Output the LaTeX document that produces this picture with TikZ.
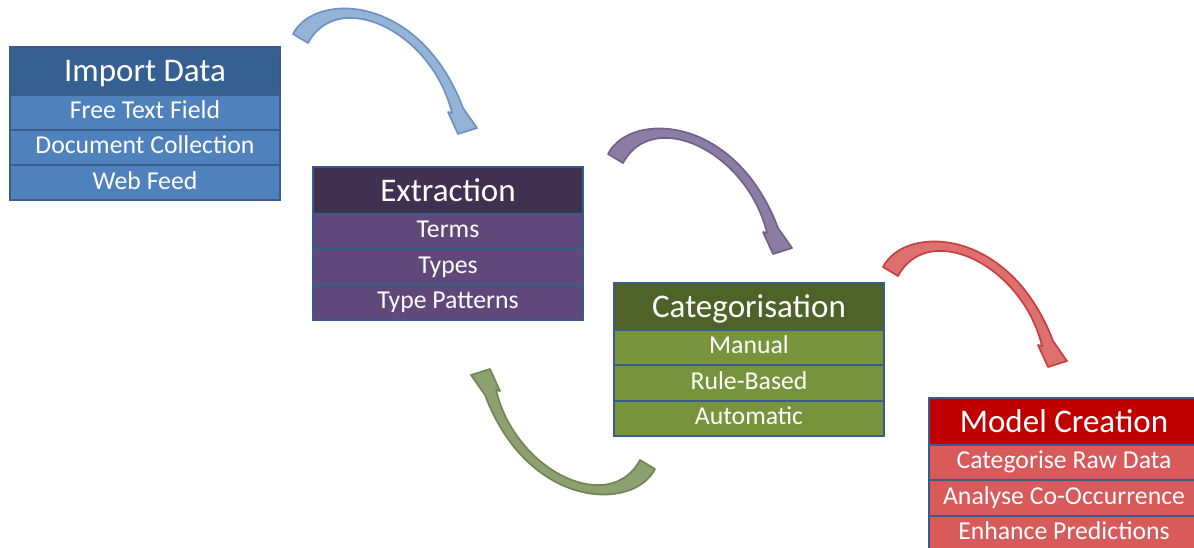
\documentclass[tikz,border=0pt]{standalone}
\usepackage{fontspec}
\setmainfont{Carlito}
\usepackage{tikz}
\usetikzlibrary{positioning}
\definecolor{rowline}{RGB}{56, 93, 138}
\definecolor{importdark}{RGB}{54, 96, 146}
\definecolor{importlight}{RGB}{79, 129, 189}
\definecolor{extractdark}{RGB}{64, 49, 81}
\definecolor{extractlight}{RGB}{96, 73, 122}
\definecolor{catdark}{RGB}{79, 98, 40}
\definecolor{catlight}{RGB}{119, 147, 60}
\definecolor{modeldark}{RGB}{192, 0, 0}
\definecolor{modellight}{RGB}{217, 90, 90}
\definecolor{arrowblue}{RGB}{149, 179, 215}
\definecolor{arrowblueline}{RGB}{108, 145, 193}
\definecolor{arrowpurple}{RGB}{140, 125, 165}
\definecolor{arrowpurpleline}{RGB}{112, 96, 140}
\definecolor{arrowred}{RGB}{222, 112, 112}
\definecolor{arrowredline}{RGB}{200, 62, 62}
\definecolor{arrowgreen}{RGB}{140, 160, 112}
\definecolor{arrowgreenline}{RGB}{112, 134, 84}

\begin{document}
\begin{tikzpicture}[
        x=0.025cm, y=-0.025cm,
        node distance=0pt,
        head/.style={rectangle, draw=rowline, line width=1.5pt, outer sep=0pt, minimum width=6.75cm, minimum height=1.175cm, text=white, font=\fontsize{23.5}{28}\selectfont, text height=19pt, text depth=4pt},
        item/.style={rectangle, draw=rowline, line width=1.5pt, outer sep=0pt, minimum width=6.75cm, minimum height=0.8825cm, text=white, font=\fontsize{18.3}{22}\selectfont, text height=13pt, text depth=4pt},
        pics/bentarrow/.style 2 args={code={
            \filldraw[fill=#1, draw=#2, line width=1.2pt, line join=round]
                (-7,-5) .. controls (15,-48) and (120,-45) .. (163,69)
                -- (177,89) -- (158,95) -- (148,73) -- (152,74)
                .. controls (132,-8) and (38,-52) .. (8,4)
                -- cycle;
        }}
    ]
    \clip (0,0) rectangle (1194,547);

    % Import Data
    \node[head, fill=importdark] (import_head) at (145, 71) {Import Data};
    \node[item, fill=importlight, below=of import_head] (import_free) {Free Text Field};
    \node[item, fill=importlight, below=of import_free] (import_docs) {Document Collection};
    \node[item, fill=importlight, below=of import_docs] (import_web) {Web Feed};

    % Extraction
    \node[head, fill=extractdark] (extract_head) at (448, 190.5) {Extraction};
    \node[item, fill=extractlight, below=of extract_head] (extract_terms) {Terms};
    \node[item, fill=extractlight, below=of extract_terms] (extract_types) {Types};
    \node[item, fill=extractlight, below=of extract_types] (extract_patterns) {Type Patterns};

    % Categorisation
    \node[head, fill=catdark] (cat_head) at (749, 306.5) {Categorisation};
    \node[item, fill=catlight, below=of cat_head] (cat_manual) {Manual};
    \node[item, fill=catlight, below=of cat_manual] (cat_rule) {Rule-Based};
    \node[item, fill=catlight, below=of cat_rule] (cat_auto) {Automatic};

    % Model Creation
    \node[head, fill=modeldark] (model_head) at (1064, 421.5) {Model Creation};
    \node[item, fill=modellight, below=of model_head] (model_raw) {Categorise Raw Data};
    \node[item, fill=modellight, below=of model_raw] (model_cooc) {Analyse Co-Occurrence};
    \node[item, fill=modellight, below=of model_cooc] (model_pred) {Enhance Predictions};

    % Curved block arrows between stages
    \pic at (300, 39) {bentarrow={arrowblue}{arrowblueline}};
    \pic at (615, 159) {bentarrow={arrowpurple}{arrowpurpleline}};
    \pic at (890, 272) {bentarrow={arrowred}{arrowredline}};
    \pic[rotate=180] at (648, 464) {bentarrow={arrowgreen}{arrowgreenline}};

\end{tikzpicture}
\end{document}
